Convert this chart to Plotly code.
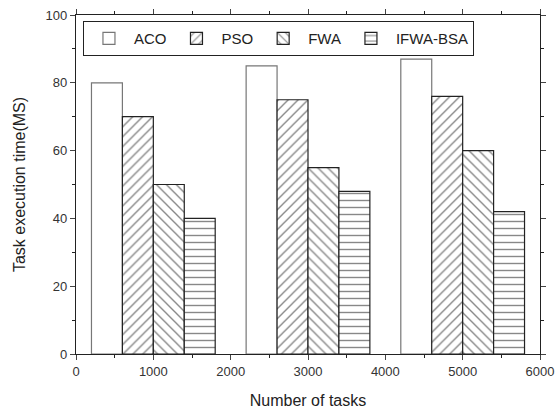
import plotly.graph_objects as go

tasks = [1000, 3000, 5000]
series_names = ["ACO", "PSO", "FWA", "IFWA-BSA"]
aco = [80, 85, 87]
pso = [70, 75, 76]
fwa = [50, 55, 60]
ifwa_bsa = [40, 48, 42]
x_ticks = [0, 1000, 2000, 3000, 4000, 5000, 6000]
y_ticks = [0, 20, 40, 60, 80, 100]

values = [aco, pso, fwa, ifwa_bsa]
shapes = ["", "/", "\\", "-"]
offsets = [-800, -400, 0, 400]
line_colors = ["#777777", "#222222", "#222222", "#222222"]

fig = go.Figure()
for name, vals, shp, off, lc in zip(series_names, values, shapes, offsets, line_colors):
    fig.add_trace(go.Bar(
        x=tasks, y=vals, name=name, width=400, offset=off,
        marker=dict(color="white", line=dict(color=lc, width=1.2),
                    pattern=dict(shape=shp, fgcolor="#111111", bgcolor="white",
                                 size=7, solidity=0.2)),
    ))

font = "Liberation Sans, Arial, sans-serif"
fig.update_layout(
    width=556, height=411,
    margin=dict(l=76, r=16, t=15, b=57, autoexpand=False),
    paper_bgcolor="white", plot_bgcolor="white",
    barmode="overlay",
    font=dict(family=font, size=13, color="#222222"),
    showlegend=True,
    legend=dict(orientation="h", x=0.015, y=0.982, xanchor="left", yanchor="top",
                bordercolor="#222222", borderwidth=1, bgcolor="white",
                font=dict(size=15, color="#222222"), itemwidth=40, tracegroupgap=0,
                traceorder="normal"),
    xaxis=dict(range=[0, 6000], tickvals=x_ticks, ticks="outside", ticklen=5,
               showline=True, linecolor="#222222", linewidth=1.2, mirror="ticks",
               showgrid=False, zeroline=False, automargin=False,
               ticklabeloverflow="allow",
               minor=dict(dtick=500, ticks="outside", ticklen=3, tickcolor="#222222"),
               title=dict(text="Number of tasks", font=dict(size=16), standoff=17),
               tickfont=dict(size=13, color="#333333")),
    yaxis=dict(range=[0, 100], tickvals=y_ticks, ticks="outside", ticklen=5,
               showline=True, linecolor="#222222", linewidth=1.2, mirror="ticks",
               showgrid=False, zeroline=False, automargin=False,
               ticklabeloverflow="allow",
               minor=dict(dtick=10, ticks="outside", ticklen=3, tickcolor="#222222"),
               title=dict(text="Task execution time(MS)", font=dict(size=16), standoff=15),
               tickfont=dict(size=13, color="#333333")),
)

fig.write_html(
    "out.html",
    config={"displayModeBar": False},
    post_script="document.body.style.margin='0';document.body.style.overflow='hidden';",
)
